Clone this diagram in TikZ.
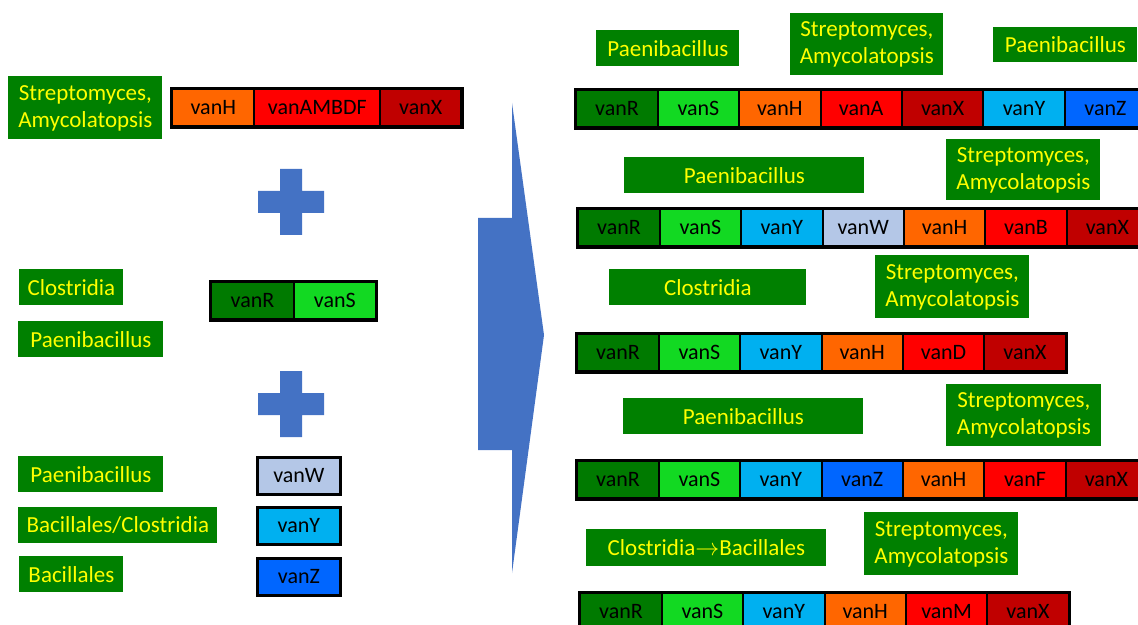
\documentclass[tikz,border=0pt]{standalone}
\usepackage{fontspec}
\setmainfont{Carlito}
\usetikzlibrary{matrix}
\definecolor{taxgreen}{RGB}{0,128,0}
\definecolor{taxyellow}{RGB}{255,255,0}
\definecolor{vR}{RGB}{0,122,0}
\definecolor{vS}{RGB}{18,217,34}
\definecolor{vH}{RGB}{255,102,0}
\definecolor{vA}{RGB}{255,0,0}
\definecolor{vX}{RGB}{192,0,0}
\definecolor{vY}{RGB}{0,176,240}
\definecolor{vZ}{RGB}{0,102,255}
\definecolor{vW}{RGB}{180,199,231}
\definecolor{flow}{RGB}{68,114,196}

\begin{document}
\begin{tikzpicture}[x=0.5pt, y=-0.5pt,
    taxon/.style 2 args={fill=taxgreen, text=taxyellow, inner sep=0pt, align=center, anchor=north west, minimum width=#1, minimum height=#2, font=\fontsize{11.5}{13.5}\selectfont},
    gene/.style={draw, line width=1pt, minimum width=40.7pt, minimum height=18.5pt, inner sep=0pt, font=\fontsize{11}{13}\selectfont},
    genes/.style={matrix of nodes, draw, line width=1.3pt, inner sep=0pt, column sep=-1pt, anchor=north west, nodes={gene}},
    single/.style={gene, line width=1.4pt, minimum width=41.5pt, anchor=north west},
    plus/.style={fill=flow}
]
    \useasboundingbox (0,0) rectangle (1138,625);
    \clip (0,0) rectangle (1138,625);

    % Left: ancestral pieces
    \node[taxon={77pt}{31.5pt}] (l1) at (8,76) {Streptomyces,\\Amycolatopsis};
    \matrix (la) [genes] at (170,87) {
        |[fill=vH, minimum width=41pt]| vanH & |[fill=vA, minimum width=63pt]| vanAMBDF & |[fill=vX, minimum width=40.5pt]| vanX \\
    };

    \fill[plus, shift={(291,202)}] (-33,-11) rectangle (33,11) (-11,-33) rectangle (11,33);

    \node[taxon={52pt}{18pt}] (l2) at (19,269) {Clostridia};
    \node[taxon={72.5pt}{18pt}] (l3) at (18,321) {Paenibacillus};
    \matrix (lb) [genes] at (209,280) {
        |[fill=vR, minimum width=41.2pt]| vanR & |[fill=vS, minimum width=41.2pt]| vanS \\
    };

    \fill[plus, shift={(291,404)}] (-33,-11) rectangle (33,11) (-11,-33) rectangle (11,33);

    \node[taxon={72.5pt}{18pt}] (l4) at (18,456) {Paenibacillus};
    \node[taxon={99.5pt}{18pt}] (l5) at (18,507) {Bacillales/Clostridia};
    \node[taxon={52pt}{18pt}] (l6) at (19,556) {Bacillales};
    \node[single, fill=vW] (gw) at (256,456) {vanW};
    \node[single, fill=vY] (gy) at (256,506) {vanY};
    \node[single, fill=vZ] (gz) at (256,557) {vanZ};

    % Big arrow
    \fill[flow] (478,218) -- (512,218) -- (512,103) -- (544,335) -- (512,573) -- (512,450) -- (478,450) -- cycle;

    % Right: operons
    \node[taxon={71.5pt}{18pt}] (r1a) at (596,30) {Paenibacillus};
    \node[taxon={76.5pt}{31pt}] (r1b) at (790,13) {Streptomyces,\\Amycolatopsis};
    \node[taxon={72pt}{17.5pt}] (r1c) at (993,27) {Paenibacillus};
    \matrix (r1) [genes] at (574,88) {
        |[fill=vR]| vanR & |[fill=vS]| vanS & |[fill=vH]| vanH & |[fill=vA]| vanA & |[fill=vX]| vanX & |[fill=vY]| vanY & |[fill=vZ]| vanZ \\
    };

    \node[taxon={120pt}{18pt}] (r2a) at (624,157) {Paenibacillus};
    \node[taxon={77pt}{30.5pt}] (r2b) at (946,139) {Streptomyces,\\Amycolatopsis};
    \matrix (r2) [genes] at (576,207) {
        |[fill=vR]| vanR & |[fill=vS]| vanS & |[fill=vY]| vanY & |[fill=vW]| vanW & |[fill=vH]| vanH & |[fill=vA]| vanB & |[fill=vX]| vanX \\
    };

    \node[taxon={98.5pt}{18pt}] (r3a) at (609,269) {Clostridia};
    \node[taxon={77pt}{31.5pt}] (r3b) at (875,255) {Streptomyces,\\Amycolatopsis};
    \matrix (r3) [genes] at (575,332) {
        |[fill=vR]| vanR & |[fill=vS]| vanS & |[fill=vY]| vanY & |[fill=vH]| vanH & |[fill=vA]| vanD & |[fill=vX]| vanX \\
    };

    \node[taxon={120pt}{18pt}] (r4a) at (623,398) {Paenibacillus};
    \node[taxon={77.5pt}{31pt}] (r4b) at (946,384) {Streptomyces,\\Amycolatopsis};
    \matrix (r4) [genes] at (575,459) {
        |[fill=vR]| vanR & |[fill=vS]| vanS & |[fill=vY]| vanY & |[fill=vZ]| vanZ & |[fill=vH]| vanH & |[fill=vA]| vanF & |[fill=vX]| vanX \\
    };

    \node[taxon={120pt}{18.5pt}] (r5a) at (586,529) {Clostridia$\rightarrow$Bacillales};
    \node[taxon={77pt}{31.5pt}] (r5b) at (864,512) {Streptomyces,\\Amycolatopsis};
    \matrix (r5) [genes] at (578,591) {
        |[fill=vR]| vanR & |[fill=vS]| vanS & |[fill=vY]| vanY & |[fill=vH]| vanH & |[fill=vA]| vanM & |[fill=vX]| vanX \\
    };
\end{tikzpicture}
\end{document}
